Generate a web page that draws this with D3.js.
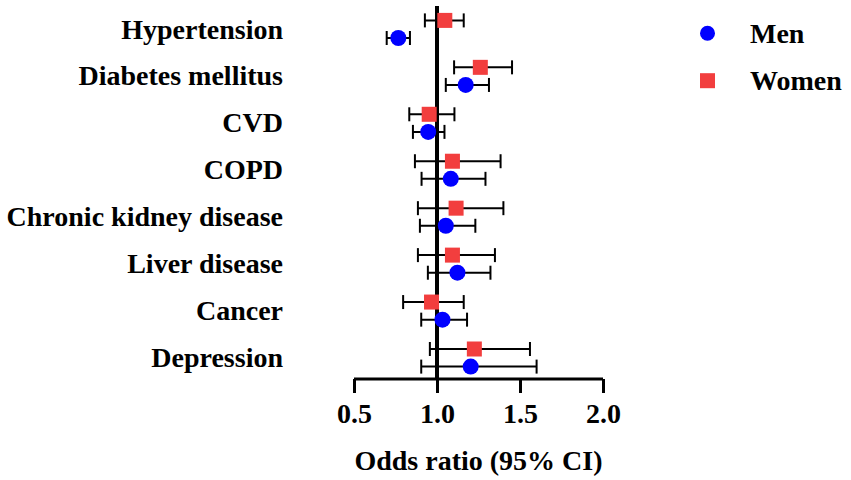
<!DOCTYPE html>
<html>
<head>
<meta charset="utf-8">
<script src="https://cdn.jsdelivr.net/npm/d3@7"></script>
<style>
html,body{margin:0;padding:0;background:#fff;}
text{font-family:"Liberation Serif","Times New Roman",serif;font-weight:bold;fill:#000;}
</style>
</head>
<body>
<svg id="chart" width="851" height="480"></svg>
<script>
const categories = ["Hypertension","Diabetes mellitus","CVD","COPD","Chronic kidney disease","Liver disease","Cancer","Depression"];
const menOR    = [0.767, 1.173, 0.947, 1.083, 1.053, 1.123, 1.033, 1.203];
const menLow   = [0.697, 1.053, 0.855, 0.907, 0.897, 0.945, 0.905, 0.905];
const menHigh  = [0.837, 1.313, 1.045, 1.292, 1.231, 1.322, 1.181, 1.600];
const womenOR  = [1.047, 1.261, 0.953, 1.093, 1.115, 1.093, 0.967, 1.225];
const womenLow = [0.927, 1.103, 0.833, 0.867, 0.885, 0.885, 0.796, 0.957];
const womenHigh= [1.161, 1.452, 1.105, 1.383, 1.400, 1.349, 1.161, 1.560];
const xTicks = [0.5, 1.0, 1.5, 2.0];
const seriesNames = ["Men","Women"];

const svg = d3.select("#chart");
const x = d3.scaleLinear().domain([0.5, 2.0]).range([354, 603]);
const y = d3.scalePoint().domain(categories).range([29.2, 357.8]);
const off = 8.8;
const axisY = 379;
const colors = {Men:"#0000ff", Women:"#f23e3e"};

// reference line at OR = 1
svg.append("line")
  .attr("x1", x(1)).attr("x2", x(1))
  .attr("y1", 6).attr("y2", axisY)
  .attr("stroke", "#000").attr("stroke-width", 4);

// x axis
const axis = d3.axisBottom(x).tickValues(xTicks).tickFormat(d3.format(".1f")).tickSize(14).tickPadding(10);
const gx = svg.append("g").attr("transform", `translate(0,${axisY})`).call(axis);
gx.attr("font-family", null);
gx.select(".domain").attr("stroke", "#000").attr("stroke-width", 3)
  .attr("d", `M${x(0.5)},0H${x(2.0)}`);
gx.selectAll(".tick line").attr("stroke", "#000").attr("stroke-width", 3);
gx.selectAll(".tick text").style("font-size", "28px").style("font-family", '"Liberation Serif","Times New Roman",serif')
  .style("font-weight", "bold").attr("fill", "#000");

svg.append("text")
  .attr("x", (x(0.5) + x(2.0)) / 2).attr("y", 470)
  .attr("text-anchor", "middle").style("font-size", "28px")
  .text("Odds ratio (95% CI)");

// category labels
svg.selectAll("text.cat").data(categories).enter().append("text")
  .attr("class", "cat")
  .attr("x", 283).attr("y", d => y(d) + 9.3)
  .attr("text-anchor", "end").style("font-size", "28px")
  .text(d => d);

function drawSeries(name, est, lo, hi, dy) {
  const data = categories.map((c, i) => ({c, est: est[i], lo: lo[i], hi: hi[i]}));
  const g = svg.append("g").attr("class", name);
  const cap = 7;
  g.selectAll("line.ci").data(data).enter().append("line")
    .attr("x1", d => x(d.lo)).attr("x2", d => x(d.hi))
    .attr("y1", d => y(d.c) + dy).attr("y2", d => y(d.c) + dy)
    .attr("stroke", "#000").attr("stroke-width", 2);
  ["lo", "hi"].forEach(k => {
    g.selectAll("line.cap" + k).data(data).enter().append("line")
      .attr("x1", d => x(d[k])).attr("x2", d => x(d[k]))
      .attr("y1", d => y(d.c) + dy - cap).attr("y2", d => y(d.c) + dy + cap)
      .attr("stroke", "#000").attr("stroke-width", 2);
  });
  if (name === "Men") {
    g.selectAll("circle").data(data).enter().append("circle")
      .attr("cx", d => x(d.est)).attr("cy", d => y(d.c) + dy)
      .attr("r", 8).attr("fill", colors.Men);
  } else {
    const s = 15;
    g.selectAll("rect").data(data).enter().append("rect")
      .attr("x", d => x(d.est) - s / 2).attr("y", d => y(d.c) + dy - s / 2)
      .attr("width", s).attr("height", s).attr("fill", colors.Women);
  }
}
drawSeries("Women", womenOR, womenLow, womenHigh, -off);
drawSeries("Men", menOR, menLow, menHigh, off);

// legend
const legY = [33.3, 80.7];
seriesNames.forEach((n, i) => {
  if (n === "Men") {
    svg.append("circle").attr("cx", 707.5).attr("cy", legY[i]).attr("r", 7.5).attr("fill", colors.Men);
  } else {
    svg.append("rect").attr("x", 707.5 - 7.5).attr("y", legY[i] - 7.5).attr("width", 15).attr("height", 15).attr("fill", colors.Women);
  }
  svg.append("text").attr("x", 750).attr("y", legY[i] + 9.3).style("font-size", "28px").text(n);
});
</script>
</body>
</html>
